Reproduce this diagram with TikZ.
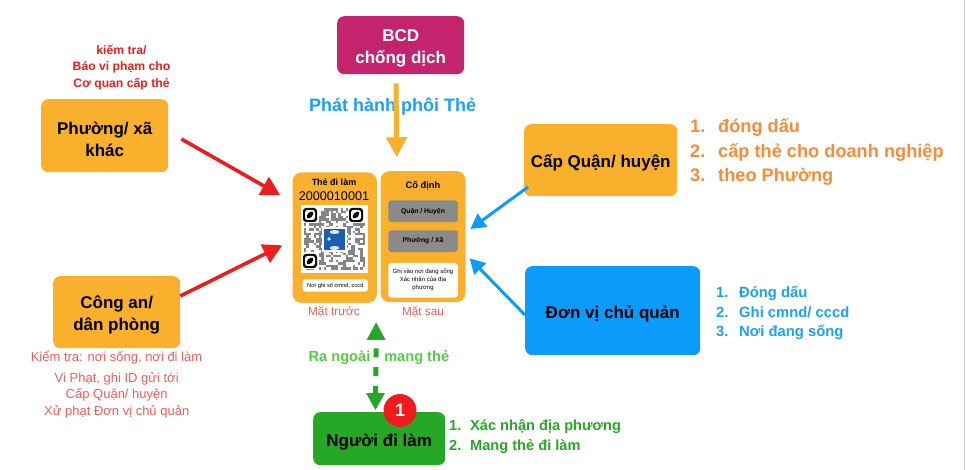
\documentclass[tikz,border=0pt]{standalone}
\usepackage{fontspec}
\setmainfont{Liberation Sans}
\usetikzlibrary{arrows.meta}
\definecolor{org}{HTML}{F9B02D}
\definecolor{mag}{HTML}{C4246E}
\definecolor{blu}{HTML}{0A9BFB}
\definecolor{grn}{HTML}{26A826}
\definecolor{red1}{HTML}{EE1C1C}
\definecolor{red2}{HTML}{F25B57}
\definecolor{gry}{HTML}{8A8A8A}
\definecolor{lgrn}{HTML}{55CC44}
\definecolor{orgt}{HTML}{F98A38}
\definecolor{cyant}{HTML}{1AA0F5}
\definecolor{qrblue}{HTML}{1E5CB0}
\newcommand{\numa}[1]{\makebox[28pt][l]{#1}}
\newcommand{\numb}[1]{\makebox[23pt][l]{#1}}
\newcommand{\numc}[1]{\makebox[21pt][l]{#1}}
\newcommand{\boxtop}{\rule{0pt}{19pt}}
\tikzset{x=1pt,y=-1pt,
 boxnode/.style={rounded corners=7pt,inner sep=0pt,align=center,font=\bfseries\fontsize{17}{22}\selectfont,anchor=north west},
 redarrow/.style={draw=red1,line width=3.6pt,-{Triangle[length=19pt,width=20pt]}},
 bluarrow/.style={draw=blu,line width=3pt,-{Triangle[length=15pt,width=16pt]}},
 orgarrow/.style={draw=org,line width=5pt,-{Triangle[length=20pt,width=20pt]}},
 cardbox/.style={fill=org,rounded corners=9pt,inner sep=0pt,anchor=north west},
 greyb/.style={fill=gry,rounded corners=3pt,minimum width=69.5pt,minimum height=21.7pt,inner sep=0pt,font=\bfseries\fontsize{6.8}{8}\selectfont},
 whiteb/.style={fill=white,rounded corners=3pt,inner sep=0pt,align=center},
 lab/.style={inner sep=0pt,align=center},
 listb/.style={inner sep=0pt,align=left,anchor=base west}
}
\begin{document}
\begin{tikzpicture}
\useasboundingbox (0,0) rectangle (966,470);
\draw[black!20,line width=1.5pt] (964.5,0) -- (964.5,470);
% boxes
\node[boxnode,fill=mag,text=white,minimum width=127pt,minimum height=58pt] (bcd) at (337,16) {\boxtop BCD\\chống dịch};
\node[boxnode,fill=org,minimum width=127pt,minimum height=73pt] (phuong) at (41,99) {\boxtop Phường/ xã\\khác};
\node[boxnode,fill=org,minimum width=127pt,minimum height=72pt] (congan) at (53,276) {\boxtop Công an/\\dân phòng};
\node[boxnode,fill=org,minimum width=153pt,minimum height=72pt] (quan) at (524,124) {\boxtop Cấp Quận/ huyện};
\node[boxnode,fill=blu,minimum width=175pt,minimum height=89pt] (donvi) at (525,266) {\boxtop Đơn vị chủ quản};
\node[boxnode,fill=grn,minimum width=132pt,minimum height=53pt] (nguoi) at (313,412) {\boxtop Người đi làm};
% cards
\node[cardbox,minimum width=84.4pt,minimum height=130.4pt] (front) at (292.3,172.3) {};
\node[cardbox,minimum width=85pt,minimum height=131pt] (back) at (380.3,171) {};
\node[lab,font=\bfseries\fontsize{9}{10}\selectfont] (t1) at (334,182.3) {Thẻ đi làm};
\node[lab,font=\fontsize{12.6}{14}\selectfont] (t2) at (334,195.7) {2000010001};
\node[fill=white,minimum width=67pt,minimum height=68pt,inner sep=0pt,anchor=north west] (qr) at (300.5,205) {};
% QR texture
\foreach \i in {0,...,24}{\foreach \j in {0,...,24}{
 \pgfmathtruncatemacro{\h}{mod(mod(\i*\i*11+\j*17+3,23)*mod(\j*\j*13+\i*7+5,19),11)}
 \ifnum\h<5 \fill[black!48] ({304+\i*2.45},{208.5+\j*2.45}) rectangle ++(2.45,2.45);\fi
}}
\foreach \px/\py in {310/215,356/215,310/261}{
 \fill[white] (\px-8.5,\py-8.5) rectangle (\px+8.5,\py+8.5);
 \fill[black,rounded corners=3pt] (\px-7,\py-7) rectangle (\px+7,\py+7);
 \fill[white,rounded corners=2.5pt] (\px-5,\py-5) rectangle (\px+5,\py+5);
 \fill[black,rotate around={45:(\px,\py)}] (\px,\py) ellipse (4.2 and 2.4);
}
\fill[white] (322,227) rectangle (347,252);
\fill[qrblue] (324,229) rectangle (345,250);
\fill[white!85!qrblue] (334.5,232) ellipse (5 and 2);
\fill[white!85!qrblue] (334.5,248) ellipse (5 and 2);
\fill[white!85!qrblue] (329,239) circle (1.8);
\node[whiteb,minimum width=65.3pt,minimum height=12.4pt,font=\fontsize{5.7}{7}\selectfont] (wf) at (335.3,285.5) {Nơi ghi số cmnd, cccd};
\node[lab,font=\bfseries\fontsize{9.3}{11}\selectfont] (t3) at (423,186) {Cố định};
\node[greyb] (g1) at (423,211.2) {Quận / Huyện};
\node[greyb] (g2) at (423,241.2) {Phường / Xã};
\node[whiteb,minimum width=69.5pt,minimum height=34.7pt,font=\fontsize{6}{8}\selectfont] (wb) at (423,280.3) {Ghi vào nơi đang sống\\Xác nhận của địa\\phương};
\node[lab,text=red2,font=\fontsize{11.8}{13}\selectfont] (mt) at (334,312.5) {Mặt trước};
\node[lab,text=red2,font=\fontsize{11.8}{13}\selectfont] (ms) at (423,312.5) {Mặt sau};
% labels
\node[lab,text=red1,font=\bfseries\fontsize{12.2}{16.5}\selectfont] (l1) at (121.5,67.5) {kiếm tra/\\Báo vi phạm cho\\Cơ quan cấp thẻ};
\node[lab,text=red2,font=\fontsize{13}{16.5}\selectfont] (l2) at (116.5,357.7) {Kiểm tra: nơi sống, nơi đi làm};
\node[lab,text=red2,font=\fontsize{13}{16.5}\selectfont] (l3) at (116.7,395) {Vi Phạt, ghi ID gửi tới\\Cấp Quận/ huyện\\Xử phạt Đơn vị chủ quản};
\node[lab,text=cyant,font=\bfseries\fontsize{18}{20}\selectfont] (ph) at (392.7,106.3) {Phát hành phôi Thẻ};
\node[lab,text=lgrn,font=\bfseries\fontsize{14.6}{16}\selectfont] (r1) at (339.5,357.7) {Ra ngoài};
\node[lab,text=lgrn,font=\bfseries\fontsize{14.6}{16}\selectfont] (r2) at (416.7,357.7) {mang thẻ};
\begin{scope}[font=\bfseries\fontsize{18.2}{20}\selectfont,text=orgt]
\node[listb] (q1) at (690,133) {\numa{1.}đóng dấu};
\node[listb] (q2) at (690,158) {\numa{2.}cấp thẻ cho doanh nghiệp};
\node[listb] (q3) at (690,181.5) {\numa{3.}theo Phường};
\end{scope}
\begin{scope}[font=\bfseries\fontsize{14.8}{16}\selectfont,text=cyant]
\node[listb] (d1) at (716,297.5) {\numb{1.}Đóng dấu};
\node[listb] (d2) at (716,317) {\numb{2.}Ghi cmnd/ cccd};
\node[listb] (d3) at (716,336) {\numb{3.}Nơi đang sống};
\end{scope}
\begin{scope}[font=\bfseries\fontsize{14.6}{16}\selectfont,text=grn]
\node[listb] (n1) at (449,430) {\numc{1.}Xác nhận địa phương};
\node[listb] (n2) at (449,450) {\numc{2.}Mang thẻ đi làm};
\end{scope}
% connector ends, placed from the nodes they join
\coordinate (a1s) at ([shift={(13,40)}]phuong.north east);
\coordinate (a1e) at ([shift={(-12,23)}]front.north west);
\coordinate (a2s) at ([shift={(0,20)}]congan.north east);
\coordinate (a2e) at ([shift={(-10,73)}]front.north west);
\coordinate (os) at ([shift={(59,9)}]bcd.south west);
\coordinate (oe) at ([shift={(19.7,-15)}]front.north east);
\coordinate (b1s) at ([shift={(4,63)}]quan.north west);
\coordinate (b1e) at ([shift={(4.7,58)}]back.north east);
\coordinate (b2s) at ([shift={(0,49)}]donvi.north west);
\coordinate (b2e) at ([shift={(4,87.3)}]back.north east);
\draw[redarrow] (a1s) -- (a1e);
\draw[redarrow] (a2s) -- (a2e);
\draw[orgarrow] (os) -- (oe);
\draw[bluarrow] (b1s) -- (b1e);
\draw[bluarrow] (b2s) -- (b2e);
% green dashed double arrow
\coordinate (gt) at ([shift={(-1,19.3)}]front.south east);
\coordinate (gb) at ([shift={(62.5,-2)}]nguoi.north west);
\fill[grn] (gt) -- ++(9.5,17.5) -- ++(-19,0) -- cycle;
\fill[grn] (gb) -- ++(9.5,-17) -- ++(-19,0) -- cycle;
\draw[draw=grn,line width=5pt,dash pattern=on 9pt off 9.7pt] ([shift={(0,26)}]gt) -- ([shift={(0,-16)}]gb);
% badge
\node[circle,fill=red1,minimum size=33pt,inner sep=0pt,text=white,font=\bfseries\fontsize{18}{18}\selectfont] (badge) at (400,410.5) {1};
\end{tikzpicture}
\end{document}
